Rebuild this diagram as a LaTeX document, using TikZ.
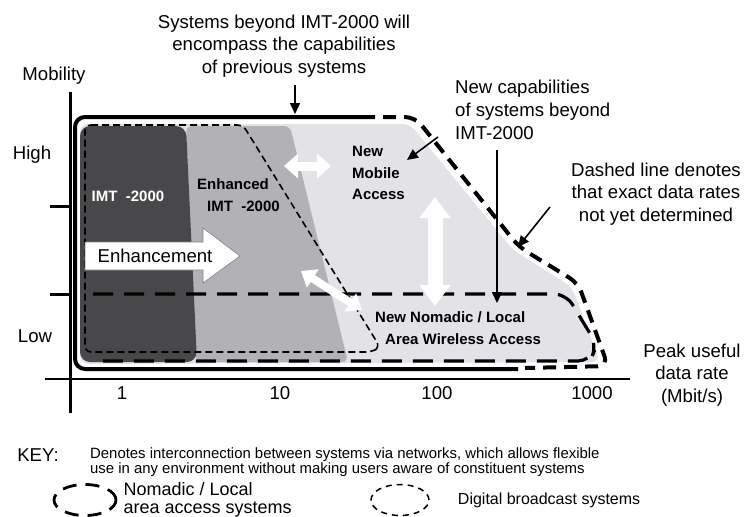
\documentclass[tikz,border=0pt]{standalone}
\usepackage{fontspec}
\setmainfont{Liberation Sans}
\usetikzlibrary{arrows.meta,positioning,shapes.geometric}

\definecolor{imtdark}{RGB}{72,72,74}
\definecolor{imtmid}{RGB}{178,178,182}
\definecolor{imtlight}{RGB}{226,226,231}

\tikzset{
  lbl/.style={font=\fontsize{18.6}{22.8}\selectfont, align=center, inner sep=0pt},
  inlbl/.style={font=\fontsize{15}{21.5}\selectfont\bfseries, align=left, inner sep=0pt},
  pointer/.style={-{Triangle[length=11pt,width=10pt]}, line width=1.6pt},
  wharrow/.style={white, line width=#1},
  beyondline/.style={line width=4pt, rounded corners=10pt},
  beyonddash/.style={line width=4pt, dash pattern=on 13pt off 8pt, rounded corners=10pt},
  nomadic/.style={line width=3.2pt, dash pattern=on 20pt off 11pt, rounded corners=12pt},
  broadcast/.style={line width=1.6pt, dash pattern=on 7pt off 4pt, rounded corners=6pt},
}

\begin{document}
\begin{tikzpicture}[x=1pt,y=-1pt]
\useasboundingbox (0,0) rectangle (745,517);
%---------------------------------- regions
\fill[imtlight, rounded corners=8pt] (80,124) -- (410,124) -- (513,250) -- (572,287)
  -- (600,362) -- (80,364) -- cycle;
\fill[imtmid, rounded corners=6pt] (186,126) -- (290,126) -- (348,362) -- (196,362) -- cycle;
\fill[imtdark, rounded corners=10pt] (80,126) -- (186,126) -- (197,362) -- (80,362) -- cycle;
%---------------------------------- outlines
\draw[broadcast] (85,125) -- (243,125) -- (380,347) -- (372,352) -- (85,352) -- cycle;
\draw[nomadic] (93,294) -- (566,294) -- (597,345) -- (590,361) -- (93,361);
\draw[beyondline] (362,117) -- (75,117) -- (75,369) -- (518,369);
\draw[beyonddash] (362,117) -- (415,117) -- (519,247) -- (578,283) -- (608,366) -- (525,368);
%---------------------------------- axes
\coordinate (ytop) at (70,92);
\coordinate (ybot) at (70,413);
\coordinate (xleft) at (45,379);
\coordinate (xright) at (630,379);
\draw[line width=3pt] (ytop) -- (ybot);
\draw[line width=2.5pt] (xleft) -- (xright);
\draw[line width=3pt] (50,206) -- (70,206);
\draw[line width=3pt] (50,294) -- (70,294);
\node[lbl] (mobility) at (54,76) {Mobility};
\node[lbl] (high) at (32,155) {High};
\node[lbl] (low) at (35,336) {Low};
\node[lbl] (r1) at (122,393) {1};
\node[lbl] (r10) at (280,393) {10};
\node[lbl] (r100) at (437,393) {100};
\node[lbl] (r1000) at (592,393) {1000};
\node[lbl] (peak) at (692,375) {Peak useful\\data rate\\(Mbit/s)};
%---------------------------------- enhancement arrow
\draw[gray, fill=white, line width=0.6pt] (85,242) -- (203,242) -- (203,228) -- (240,256)
  -- (203,283) -- (203,270) -- (85,270) -- cycle;
\node[lbl] (enhancement) at (155,256) {Enhancement};
%---------------------------------- interconnection arrows
\coordinate (h1) at (284,166);
\coordinate (h2) at (331,166);
\coordinate (v1) at (435,197);
\coordinate (v2) at (435,306);
\coordinate (d1) at (301,271);
\coordinate (d2) at (362,310);
\draw[wharrow=9pt, {Triangle[length=14pt,width=24pt]}-{Triangle[length=14pt,width=24pt]}] (h1) -- (h2);
\draw[wharrow=15pt, {Triangle[length=21pt,width=30pt]}-{Triangle[length=21pt,width=30pt]}] (v1) -- (v2);
\draw[wharrow=8pt, {Triangle[length=14pt,width=21pt]}-{Triangle[length=14pt,width=21pt]}] (d1) -- (d2);
%---------------------------------- system labels
\node[inlbl, text=white] (imt) at (128,196) {IMT~~-2000};
\node[inlbl, anchor=west] (enhimt) at (197,195) {Enhanced\\\hspace*{10pt}IMT~~-2000};
\node[inlbl, anchor=west] (newmob) at (352,173) {New\\Mobile\\Access};
\node[inlbl, anchor=west] (newnom) at (375,328) {New Nomadic / Local\\\hspace*{10pt}Area Wireless Access};
%---------------------------------- annotations
\node[lbl] (sysbeyond) at (284,46) {Systems beyond IMT-2000 will\\encompass the capabilities\\of previous systems};
\node[lbl, anchor=west, align=left] (newcap) at (455,110) {New capabilities\\of systems beyond\\IMT-2000};
\node[lbl] (dashnote) at (656,194) {Dashed line denotes\\that exact data rates\\not yet determined};
\coordinate (p1) at (295,85);
\coordinate (q1) at (295,114);
\coordinate (p2) at (438,137);
\coordinate (q2) at (407,160);
\coordinate (p3) at (497,150);
\coordinate (q3) at (497,303);
\coordinate (p4) at (550,207);
\coordinate (q4) at (518,247);
\draw[pointer] (p1) -- (q1);
\draw[pointer] (p2) -- (q2);
\draw[pointer] (p3) -- (q3);
\draw[pointer] (p4) -- (q4);
%---------------------------------- key
\node[lbl] (key) at (38,455) {KEY:};
\node[anchor=west, align=left, inner sep=0pt, font=\fontsize{14.9}{12.5}\selectfont] (keytext) at (90,462)
  {Denotes interconnection between systems via networks, which allows flexible\\use in any environment without making users aware of constituent systems};
\node[draw, ellipse, line width=2.8pt, dash pattern=on 14pt off 9pt, minimum width=62pt, minimum height=31pt,
  inner sep=0pt] (keynom) at (85,500) {};
\node[right=6pt of keynom, align=left, inner sep=0pt, font=\fontsize{18}{18}\selectfont] (keynomtext)
  {Nomadic / Local\\area access systems};
\node[draw, ellipse, line width=1.5pt, dash pattern=on 6pt off 5pt, minimum width=58pt, minimum height=31pt,
  inner sep=0pt] (keybc) at (400,500) {};
\node[right=28pt of keybc, inner sep=0pt, font=\fontsize{16}{16}\selectfont] (keybctext)
  {Digital broadcast systems};
\end{tikzpicture}
\end{document}
